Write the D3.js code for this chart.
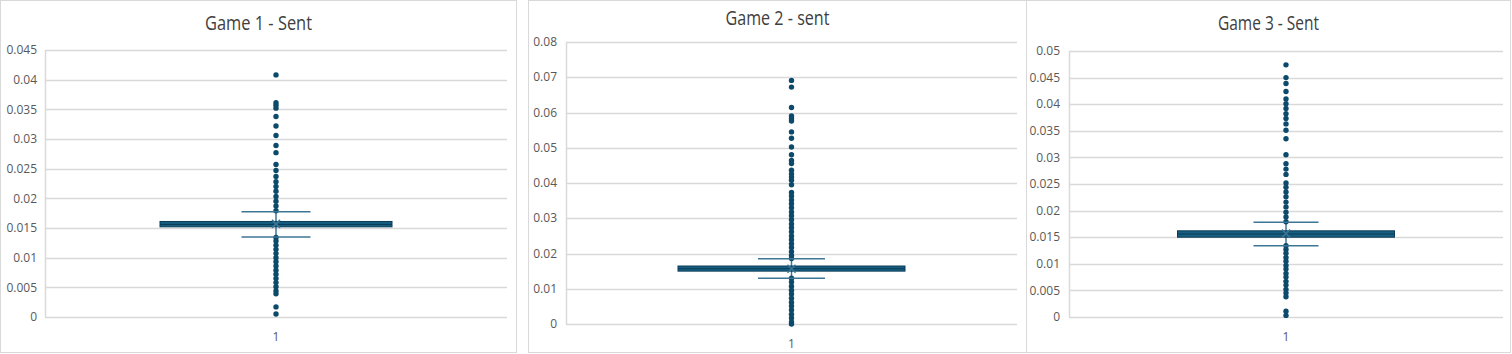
<!DOCTYPE html>
<html>
<head>
<meta charset="utf-8">
<script src="https://cdn.jsdelivr.net/npm/d3@7"></script>
<style>
  body { margin: 0; background: #fff; }
  svg { display: block; }
  text { font-family: "Open Sans", "Noto Sans", sans-serif; fill: #595959; }
</style>
</head>
<body>
<svg id="chart" width="1512" height="354"></svg>
<script>
var width = 1512,
    height = 354;

// data
var titles = ["Game 1 - Sent", "Game 2 - sent", "Game 3 - Sent"];
var yMax = [0.045, 0.08, 0.05];
var yStep = [0.005, 0.01, 0.005];
var category = ["1"];

// [whiskerLow, q1, median, q3, whiskerHigh, mean]
var game1Stats = [0.01348, 0.0152, 0.0156, 0.0161, 0.01775, 0.0157];
var game2Stats = [0.01296, 0.0150, 0.0157, 0.01645, 0.01853, 0.0157];
var game3Stats = [0.0134, 0.0150, 0.0156, 0.0162, 0.0178, 0.0157];

var game1Outliers = [0.0408, 0.0361, 0.0357, 0.0352, 0.0338, 0.0322, 0.0306, 0.0289, 0.0277,
  0.0257, 0.0247, 0.0237, 0.0228, 0.0220, 0.0212, 0.0203, 0.0195, 0.0187, 0.0179,
  0.0134, 0.0128, 0.0121, 0.0114, 0.0107, 0.0100, 0.0093, 0.0086, 0.0079, 0.0072,
  0.0065, 0.0058, 0.0051, 0.0044, 0.0039, 0.0017, 0.0005];
var game2Outliers = [0.0691, 0.0672, 0.0614, 0.0590, 0.0583, 0.0576, 0.0545, 0.0527, 0.0502,
  0.0480, 0.0464, 0.0455, 0.0436, 0.0426, 0.0417, 0.0408, 0.0395, 0.0373, 0.0363,
  0.0352, 0.0341, 0.0330, 0.0318, 0.0307, 0.0296, 0.0284, 0.0273, 0.0262, 0.0250,
  0.0239, 0.0228, 0.0217, 0.0205, 0.0194, 0.0186,
  0.0130, 0.0119, 0.0107, 0.0096, 0.0085, 0.0073, 0.0062, 0.0051, 0.0040, 0.0028,
  0.0017, 0.0006, 0.0000];
var game3Outliers = [0.0474, 0.0450, 0.0439, 0.0424, 0.0410, 0.0401, 0.0392, 0.0382, 0.0373,
  0.0363, 0.0351, 0.0335, 0.0305, 0.0288, 0.0278, 0.0268, 0.0252, 0.0244, 0.0235,
  0.0226, 0.0216, 0.0207, 0.0197, 0.0188, 0.0179,
  0.0134, 0.0127, 0.0120, 0.0112, 0.0105, 0.0097, 0.0090, 0.0082, 0.0075, 0.0067,
  0.0060, 0.0052, 0.0045, 0.0038, 0.0011, 0.0003];

var allStats = [game1Stats, game2Stats, game3Stats];
var allOutliers = [game1Outliers, game2Outliers, game3Outliers];

// panel frames and plot areas
var panels = [
  {x0: 0.5, x1: 516.5, left: 45, right: 507, top: 50, bottom: 317, titleY: 30, titleW: 107, tickX: 37, boxW: 232, capW: 69},
  {x0: 528.5, x1: 1026.5, left: 566, right: 1017, top: 42, bottom: 324, titleY: 25, titleW: 104, tickX: 557, boxW: 227, capW: 67},
  {x0: 1026.5, x1: 1510.5, left: 1069, right: 1503, top: 51, bottom: 317, titleY: 30, titleW: 101, tickX: 1060, boxW: 217, capW: 65}
];

var svg = d3.select("#chart");
var dark = "#0b4a6b",
    boxFill = "#175e80",
    whiskerCol = "#3d7694";

panels.forEach(function(p, i) {
  var g = svg.append("g");

  g.append("rect")
    .attr("x", p.x0).attr("y", 0.5)
    .attr("width", p.x1 - p.x0).attr("height", 352)
    .attr("fill", "#fff")
    .attr("stroke", "#d9d9d9")
    .attr("stroke-width", 1);

  var y = d3.scaleLinear().domain([0, yMax[i]]).range([p.bottom, p.top]);
  var x = d3.scaleBand().domain(category).range([p.left, p.right]);
  var cx = x("1") + x.bandwidth() / 2;

  var ticks = d3.range(0, yMax[i] + yStep[i] / 2, yStep[i]).map(function(v) { return +v.toFixed(4); });

  // gridlines
  g.selectAll(".grid").data(ticks).enter().append("line")
    .attr("x1", p.left).attr("x2", p.right)
    .attr("y1", function(d) { return Math.round(y(d)) + 0.5; })
    .attr("y2", function(d) { return Math.round(y(d)) + 0.5; })
    .attr("stroke", "#d9d9d9")
    .attr("stroke-width", 1.5);

  g.append("line")
    .attr("x1", p.left + 0.5).attr("x2", p.left + 0.5)
    .attr("y1", p.top).attr("y2", p.bottom)
    .attr("stroke", "#d9d9d9").attr("stroke-width", 1.5);

  // tick labels
  g.selectAll(".tick").data(ticks).enter().append("text")
    .attr("x", p.tickX)
    .attr("y", function(d) { return y(d); })
    .attr("dy", "0.35em")
    .attr("text-anchor", "end")
    .attr("font-size", 12)
    .text(function(d) { return d3.format("")(d); });

  g.append("text")
    .attr("x", cx)
    .attr("y", p.bottom + 24)
    .attr("text-anchor", "middle")
    .attr("font-size", 12)
    .text(category[0]);

  g.append("text")
    .attr("x", (p.x0 + p.x1) / 2 - p.titleW / 2)
    .attr("y", p.titleY)
    .attr("font-size", 20)
    .attr("textLength", p.titleW)
    .attr("lengthAdjust", "spacingAndGlyphs")
    .style("fill", "#404040")
    .text(titles[i]);

  var s = allStats[i];

  // whisker stem
  g.append("line")
    .attr("x1", cx).attr("x2", cx)
    .attr("y1", y(s[0])).attr("y2", y(s[4]))
    .attr("stroke", whiskerCol).attr("stroke-width", 1.5);

  // outliers
  g.selectAll(".dot").data(allOutliers[i]).enter().append("circle")
    .attr("cx", cx)
    .attr("cy", function(d) { return y(d); })
    .attr("r", 2.7)
    .attr("fill", dark);

  // whisker caps
  [s[0], s[4]].forEach(function(v) {
    g.append("line")
      .attr("x1", cx - p.capW / 2).attr("x2", cx + p.capW / 2)
      .attr("y1", y(v)).attr("y2", y(v))
      .attr("stroke", whiskerCol).attr("stroke-width", 1.5);
  });

  // box
  g.append("rect")
    .attr("x", cx - p.boxW / 2)
    .attr("y", y(s[3]))
    .attr("width", p.boxW)
    .attr("height", y(s[1]) - y(s[3]))
    .attr("fill", boxFill)
    .attr("stroke", "#0a3c58")
    .attr("stroke-width", 1);

  g.append("line")
    .attr("x1", cx - p.boxW / 2).attr("x2", cx + p.boxW / 2)
    .attr("y1", y(s[2])).attr("y2", y(s[2]))
    .attr("stroke", "#0a3c58").attr("stroke-width", 1);

  // mean marker
  var m = y(s[5]), k = 4;
  g.append("path")
    .attr("d", "M" + (cx - k) + "," + (m - k) + "L" + (cx + k) + "," + (m + k) +
               "M" + (cx - k) + "," + (m + k) + "L" + (cx + k) + "," + (m - k))
    .attr("stroke", whiskerCol).attr("stroke-width", 1.5);
});
</script>
</body>
</html>
